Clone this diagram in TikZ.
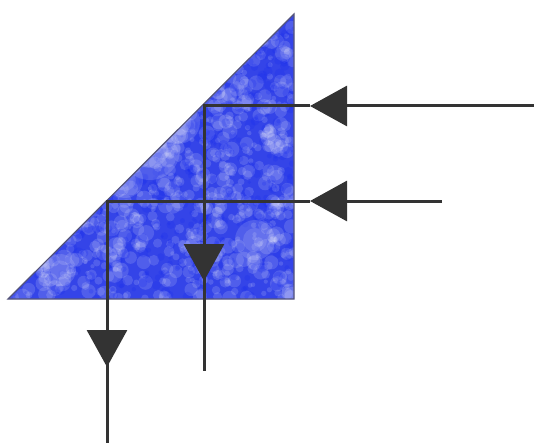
\documentclass[tikz,border=0pt]{standalone}
\usetikzlibrary{arrows.meta}
\definecolor{rayDark}{HTML}{333333}
\definecolor{prismBlue}{HTML}{3444E8}
\definecolor{prismDeep}{HTML}{1226F0}
\definecolor{prismEdge}{HTML}{55557A}
\tikzset{
  ray/.style={rayDark, line width=1.5pt},
  rayhead/.style={ray, -{Triangle[length=18.5pt, width=20pt]}},
}
\begin{document}
\begin{tikzpicture}[x=0.5pt, y=-0.5pt, line cap=butt, line join=miter]
  \useasboundingbox (0,0) rectangle (534,443);

  % ===== Prism: right triangle with cloudy blue fill =====
  \coordinate (pA) at (8,299);
  \coordinate (pB) at (294,14);
  \coordinate (pC) at (294,299);
  \fill[prismBlue] (pA) -- (pB) -- (pC) -- cycle;
  \begin{scope}
    \clip (pA) -- (pB) -- (pC) -- cycle;
    \pgfmathsetseed{11}
    % soft light patches
    \foreach \i in {1,...,1100} {
      \pgfmathsetmacro{\cx}{8+286*rnd}
      \pgfmathsetmacro{\cy}{14+285*rnd}
      \pgfmathsetmacro{\cr}{2+6*rnd}
      \fill[white, opacity=0.14] (\cx,\cy) circle (\cr);
    }
    % deeper blue specks
    \foreach \i in {1,...,700} {
      \pgfmathsetmacro{\cx}{8+286*rnd}
      \pgfmathsetmacro{\cy}{14+285*rnd}
      \pgfmathsetmacro{\cr}{1.5+4*rnd}
      \fill[prismDeep, opacity=0.2] (\cx,\cy) circle (\cr);
    }
    % lighter band along the hypotenuse
    \foreach \cx/\cy/\cr in {150/150/30, 178/122/22, 125/180/18, 255/240/20, 60/270/16, 230/60/14} {
      \fill[white, opacity=0.14] (\cx,\cy) circle (\cr);
      \fill[white, opacity=0.12] (\cx,\cy) circle (0.6*\cr);
    }
  \end{scope}
  \draw[prismEdge, line width=0.6pt] (pA) -- (pB) -- (pC) -- cycle;

  % ===== Upper ray =====
  \coordinate (in1) at (534,106);
  \coordinate (tipA) at (310,106);
  \coordinate (hit1) at (204,106);
  \coordinate (tipB) at (204,281);
  \coordinate (out1) at (204,371);
  \draw[rayhead] (in1) -- (tipA);
  \draw[ray] (tipA) -- (hit1) -- (tipB);
  \draw[rayhead] (hit1) -- (tipB);
  \draw[ray] (tipB) -- (out1);

  % ===== Lower ray =====
  \coordinate (in2) at (442,201);
  \coordinate (tipC) at (310,201);
  \coordinate (hit2) at (107,201);
  \coordinate (tipD) at (107,367);
  \coordinate (out2) at (107,443);
  \draw[rayhead] (in2) -- (tipC);
  \draw[ray] (tipC) -- (hit2) -- (tipD);
  \draw[rayhead] (hit2) -- (tipD);
  \draw[ray] (tipD) -- (out2);
\end{tikzpicture}
\end{document}
